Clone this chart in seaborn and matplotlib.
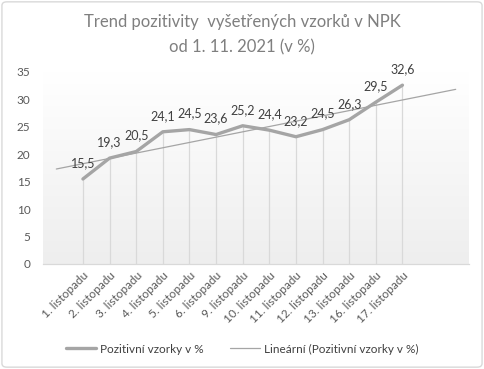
import numpy as np
import pandas as pd
import matplotlib
matplotlib.use("Agg")
import matplotlib.pyplot as plt
import seaborn as sns
from matplotlib.patches import FancyBboxPatch
from matplotlib.lines import Line2D

categories = ["1. listopadu", "2. listopadu", "3. listopadu", "4. listopadu",
              "5. listopadu", "6. listopadu", "9. listopadu", "10. listopadu",
              "11. listopadu", "12. listopadu", "13. listopadu", "16. listopadu",
              "17. listopadu"]
values = [15.5, 19.3, 20.5, 24.1, 24.5, 23.6, 25.2, 24.4, 23.2, 24.5, 26.3, 29.5, 32.6]
series_name = "Pozitivní vzorky v %"
trend_name = "Lineární (Pozitivní vzorky v %)"
title = "Trend pozitivity  vyšetřených vzorků v NPK\nod 1. 11. 2021 (v %)"
yticks = [0, 5, 10, 15, 20, 25, 30, 35]

sns.set_theme(style="white")
plt.rcParams['font.family'] = ['Lato', 'DejaVu Sans']

df = pd.DataFrame({"x": np.arange(1, len(values) + 1), "y": values, "cat": categories})

fig = plt.figure(figsize=(4.84, 3.69), dpi=100)
fig.patch.set_facecolor("white")
border = FancyBboxPatch((0.004, 0.005), 0.992, 0.99, boxstyle="round,pad=0,rounding_size=0.01",
                        transform=fig.transFigure, facecolor="white", edgecolor="#D9D9D9",
                        linewidth=1.0, zorder=-10)
fig.patches.append(border)

ax = fig.add_axes([43/484, 1 - 264/369, (469 - 43)/484, (264 - 72)/369])
ax.set_facecolor("none")
ax.set_xlim(-0.5, 15.5)
ax.set_ylim(0, 35)

# gradient background
grad = np.linspace(1, 0, 256).reshape(-1, 1)
ax.imshow(grad, extent=[-0.5, 15.5, 0, 35], aspect="auto", cmap=matplotlib.colors.LinearSegmentedColormap.from_list(
    "g", ["#EEEEEE", "#FFFFFF"]), origin="upper", zorder=0, vmin=0, vmax=1)

# drop lines
ax.vlines(df["x"], 0, df["y"], colors="#D9D9D9", linewidth=0.9, zorder=1)

# trend line (with 1 backward and 2 forward periods)
slope, intercept = np.polyfit(df["x"], df["y"], 1)
tx = np.array([df["x"].min() - 1, df["x"].max() + 2])
ax.plot(tx, slope * tx + intercept, color="#A5A5A5", linewidth=0.9, zorder=3)

sns.lineplot(data=df, x="x", y="y", ax=ax, color="#A5A5A5", linewidth=2.4, zorder=4,
             legend=False)

for xv, yv in zip(df["x"], df["y"]):
    ax.annotate(f"{yv:.1f}".replace(".", ","), (xv, yv), xytext=(0, 11.5),
                textcoords="offset points", ha="center", va="center",
                fontsize=9, color="#404040", zorder=5)

ax.set_xticks(df["x"])
ax.set_xticklabels(categories, rotation=45, ha="right", va="center",
                   rotation_mode="anchor", fontsize=8.5, color="#595959")
ax.tick_params(axis="x", length=0, pad=7)
for lbl in ax.get_xticklabels():
    lbl.set_transform(lbl.get_transform() + matplotlib.transforms.ScaledTranslation(4/100, 0, fig.dpi_scale_trans))
ax.set_yticks(yticks)
ax.set_yticklabels([str(t) for t in yticks], fontsize=8.5, color="#595959")
ax.tick_params(axis="y", length=0, pad=9)
ax.set_xlabel("")
ax.set_ylabel("")
for s in ["top", "right", "left"]:
    ax.spines[s].set_visible(False)
ax.spines["bottom"].set_color("#D9D9D9")
ax.spines["bottom"].set_linewidth(0.9)
ax.grid(False)

fig.text(0.5, 1 - 22/369, title.split("\n")[0], ha="center", va="center",
         fontsize=12, color="#7F7F7F")
fig.text(0.5, 1 - 47/369, title.split("\n")[1], ha="center", va="center",
         fontsize=12, color="#7F7F7F")

handles = [Line2D([], [], color="#A5A5A5", linewidth=2.4),
           Line2D([], [], color="#A5A5A5", linewidth=0.9)]
fig.legend(handles, [series_name, trend_name], loc="center", bbox_to_anchor=(0.5, 1 - 349/369),
           ncol=2, frameon=False, fontsize=8.5, labelcolor="#404040", handlelength=2.6,
           handletextpad=0.3, columnspacing=2.2)

fig.savefig("out.png", dpi=100)
